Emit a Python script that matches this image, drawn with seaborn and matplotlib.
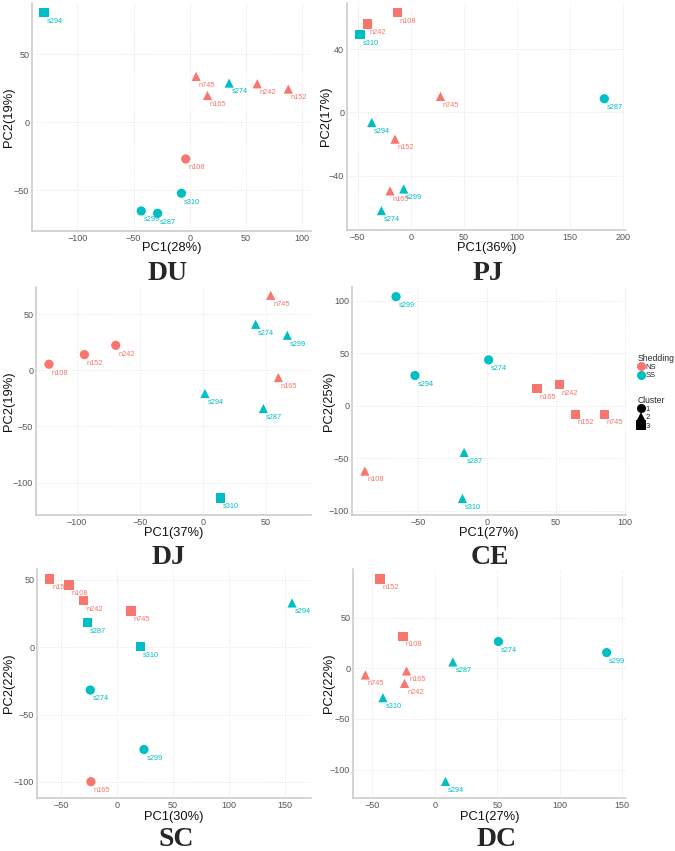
import matplotlib
matplotlib.use('Agg')
import matplotlib.pyplot as plt
from matplotlib.lines import Line2D
import pandas as pd
import seaborn as sns

# ---- data ----
du_samples = ['s294', 'n745', 's274', 'n165', 'n242', 'n152', 'n108', 's310', 's299', 's287']
du_pc1 = [-129.8, 5.7, 35.1, 15.8, 60.1, 87.8, -3.6, -7.4, -43.2, -28.6]
du_pc2 = [80.6, 33.6, 28.7, 19.6, 28.2, 24.3, -27.0, -52.2, -65.2, -66.9]
du_cluster = [3, 2, 2, 2, 2, 2, 1, 1, 1, 1]

pj_samples = ['n108', 'n242', 's310', 'n745', 's287', 's294', 'n152', 'n165', 's299', 's274']
pj_pc1 = [-12.6, -40.8, -47.7, 28.0, 182.2, -36.7, -14.8, -19.5, -6.6, -27.6]
pj_pc2 = [63.3, 56.1, 49.3, 10.2, 8.7, -6.3, -16.9, -49.7, -48.5, -62.2]
pj_cluster = [3, 3, 3, 2, 1, 2, 2, 2, 2, 2]

dj_samples = ['n745', 's274', 's299', 'n242', 'n152', 'n108', 'n165', 's294', 's287', 's310']
dj_pc1 = [53.8, 41.9, 67.0, -69.2, -94.1, -122.2, 59.9, 1.6, 48.0, 14.0]
dj_pc2 = [66.7, 40.9, 31.1, 22.2, 13.9, 5.3, -6.5, -20.7, -34.1, -113.8]
dj_cluster = [2, 2, 2, 1, 1, 1, 2, 2, 2, 3]

ce_samples = ['s299', 's274', 's294', 'n165', 'n242', 'n152', 'n745', 's287', 'n108', 's310']
ce_pc1 = [-65.9, 1.2, -52.2, 36.3, 52.4, 63.9, 85.1, -16.6, -88.5, -17.8]
ce_pc2 = [104.1, 43.8, 28.9, 16.5, 20.0, -7.9, -7.9, -44.4, -62.2, -88.3]
ce_cluster = [1, 1, 1, 3, 3, 3, 3, 2, 2, 2]

sc_samples = ['n152', 'n108', 'n242', 'n745', 's287', 's294', 's310', 's274', 's299', 'n165']
sc_pc1 = [-60.0, -42.8, -29.7, 12.5, -26.5, 156.1, 20.8, -23.8, 24.1, -23.2]
sc_pc2 = [50.6, 46.2, 34.5, 26.8, 18.1, 32.8, 0.7, -31.8, -75.9, -99.8]
sc_cluster = [3, 3, 3, 3, 3, 2, 3, 1, 1, 1]

dc_samples = ['n152', 'n108', 's274', 's299', 's287', 'n745', 'n165', 'n242', 's310', 's294']
dc_pc1 = [-44.0, -25.6, 50.9, 137.6, 14.4, -55.7, -22.7, -24.3, -41.6, 8.5]
dc_pc2 = [88.1, 31.7, 26.4, 15.5, 6.3, -6.6, -2.6, -14.9, -29.0, -111.6]
dc_cluster = [3, 3, 1, 1, 2, 2, 2, 2, 2, 2]

panel_names = ['DU', 'PJ', 'DJ', 'CE', 'SC', 'DC']
pc1_pct = [28, 36, 37, 27, 30, 27]
pc2_pct = [19, 17, 19, 25, 22, 22]

palette = {'NS': '#F8766D', 'SS': '#00BFC4'}
markers = {1: 'o', 2: '^', 3: 's'}

W, H = 675, 851


def make_df(samples, pc1, pc2, cluster):
    df = pd.DataFrame({'sample': samples, 'PC1': pc1, 'PC2': pc2, 'Cluster': cluster})
    df['Shedding'] = ['NS' if s.startswith('n') else 'SS' for s in samples]
    return df


frames = [
    make_df(du_samples, du_pc1, du_pc2, du_cluster),
    make_df(pj_samples, pj_pc1, pj_pc2, pj_cluster),
    make_df(dj_samples, dj_pc1, dj_pc2, dj_cluster),
    make_df(ce_samples, ce_pc1, ce_pc2, ce_cluster),
    make_df(sc_samples, sc_pc1, sc_pc2, sc_cluster),
    make_df(dc_samples, dc_pc1, dc_pc2, dc_cluster),
]

# panel boxes in pixels (left, top, right, bottom)
boxes = [(32, 3, 311, 231), (347, 3, 626, 230),
         (36, 287, 311, 515), (352, 287, 626, 515),
         (37, 569, 311, 798), (353, 569, 626, 798)]
xlims = [(-140.5, 108), (-60, 202.6), (-132.5, 85.8), (-97.8, 100.7), (-71.3, 173), (-65.6, 153.1)]
ylims = [(-79.9, 87.5), (-74.5, 69.4), (-128.9, 74.1), (-104.1, 113.3), (-111.9, 58), (-128, 98)]
xticks = [[-100, -50, 0, 50, 100], [-50, 0, 50, 100, 150, 200], [-100, -50, 0, 50],
          [-50, 0, 50, 100], [-50, 0, 50, 100, 150], [-50, 0, 50, 100, 150]]
yticks = [[-50, 0, 50], [-40, 0, 40], [-100, -50, 0, 50],
          [-100, -50, 0, 50, 100], [-100, -50, 0, 50], [-100, -50, 0, 50]]
title_pos = [(168, 273), (488, 273), (168, 558), (490, 557), (176, 840), (497, 840)]
xlab_top = [242, 242, 527, 527, 811, 811]
ylab_right = [15, 332, 15, 335, 15, 335]

sns.set_theme(style='white')
plt.rcParams['font.family'] = ['Liberation Sans', 'DejaVu Sans']

fig = plt.figure(figsize=(W / 100, H / 100), dpi=100)

for i, df in enumerate(frames):
    l, t, r, b = boxes[i]
    ax = fig.add_axes([l / W, 1 - b / H, (r - l) / W, (b - t) / H])
    sns.scatterplot(data=df, x='PC1', y='PC2', hue='Shedding', style='Cluster',
                    palette=palette, markers=markers, s=44, linewidth=0,
                    legend=False, ax=ax, zorder=3)
    for _, row in df.iterrows():
        ax.annotate(row['sample'], (row['PC1'], row['PC2']), xytext=(1.8, -3.8),
                    textcoords='offset points', ha='left', va='top',
                    fontsize=5.3, color=palette[row['Shedding']], zorder=4)
    ax.set_xlim(xlims[i])
    ax.set_ylim(ylims[i])
    ax.set_xticks(xticks[i])
    ax.set_yticks(yticks[i])
    ax.grid(True, color='#e4e4e4', linestyle=':', linewidth=0.7, zorder=0)
    for side in ['top', 'right']:
        ax.spines[side].set_visible(False)
    for side in ['left', 'bottom']:
        ax.spines[side].set_color('#c8c8c8')
        ax.spines[side].set_linewidth(1.1)
    ax.tick_params(length=0, pad=2, labelsize=6.5, labelcolor='#555555')
    ax.set_xlabel(f'PC1({pc1_pct[i]}%)', fontsize=9.3, color='#111111')
    ax.set_ylabel(f'PC2({pc2_pct[i]}%)', fontsize=9.3, color='#111111')
    ax.xaxis.set_label_coords(0.5, (b - xlab_top[i]) / (b - t))
    ax.yaxis.set_label_coords((ylab_right[i] - l) / (r - l), 0.5)
    tx, ty = title_pos[i]
    fig.text(tx / W, 1 - ty / H, panel_names[i], ha='center', va='center',
             fontsize=20, fontweight='bold', family='Liberation Serif')

# legend (built once, like the ggplot guide next to CE)
shed_handles = [Line2D([], [], marker='o', linestyle='', markersize=6.5,
                       markerfacecolor=palette[k], markeredgewidth=0, label=k)
                for k in ['NS', 'SS']]
clus_handles = [Line2D([], [], marker=markers[k], linestyle='', markersize=6.5,
                       markerfacecolor='black', markeredgewidth=0, label=str(k))
                for k in [1, 2, 3]]
leg_kw = dict(frameon=False, fontsize=5.5, title_fontsize=6.2, handlelength=0.8,
              handletextpad=0.2, labelspacing=0.12, borderpad=0, alignment='left')
leg1 = fig.legend(handles=shed_handles, title='Shedding', loc='upper left',
                  bbox_to_anchor=(634 / W, 1 - 350 / H), **leg_kw)
leg2 = fig.legend(handles=clus_handles, title='Cluster', loc='upper left',
                  bbox_to_anchor=(634 / W, 1 - 392 / H), **leg_kw)

fig.savefig('out.png', dpi=100)
